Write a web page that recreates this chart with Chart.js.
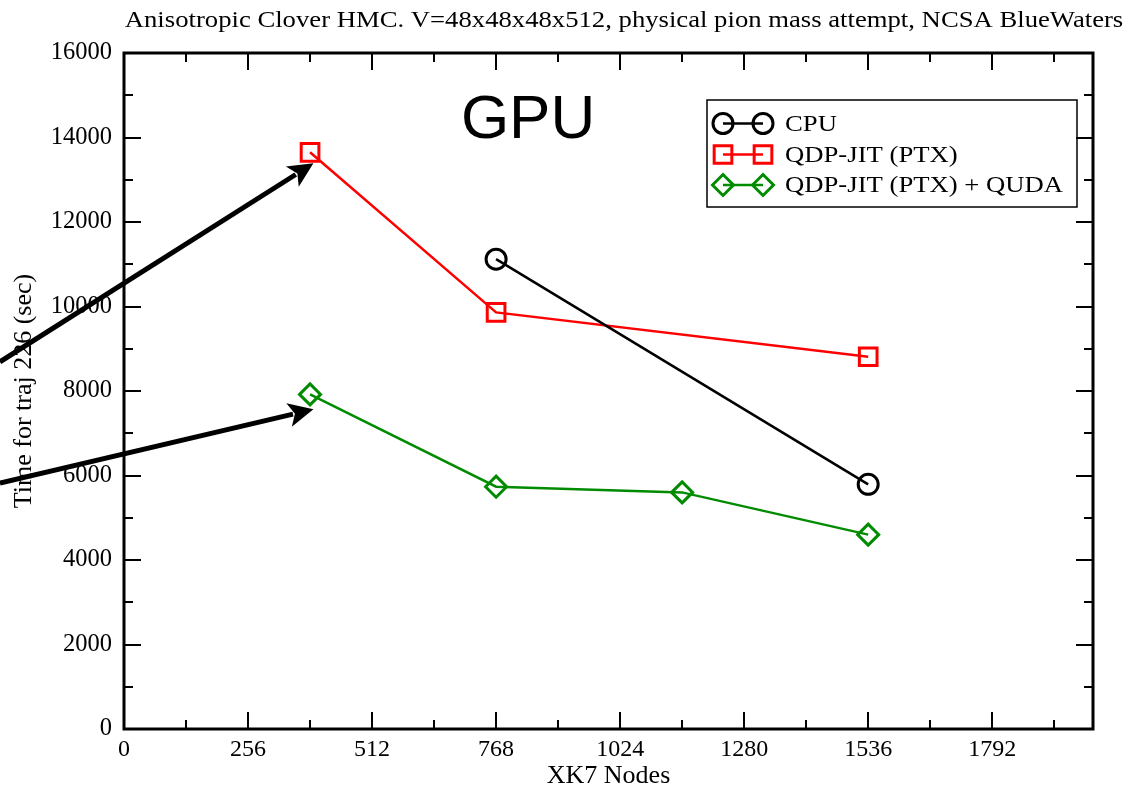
<!DOCTYPE html>
<html><head><meta charset="utf-8">
<script src="https://cdn.jsdelivr.net/npm/chart.js@4.4.1/dist/chart.umd.min.js"></script>
<style>html,body{margin:0;padding:0;background:#fff}#wrap{width:1130px;height:792px}</style>
</head><body><div id="wrap"><canvas id="c" width="1130" height="792"></canvas></div>
<script>
const titleText = "Anisotropic Clover HMC. V=48x48x48x512, physical pion mass attempt, NCSA BlueWaters";
const xTitle = "XK7 Nodes";
const yTitle = "Time for traj 226 (sec)";
const bigLabel = "GPU";
const xTicks = [0, 256, 512, 768, 1024, 1280, 1536, 1792];
const xMinorStep = 128;
const yTicks = [0, 2000, 4000, 6000, 8000, 10000, 12000, 14000, 16000];
const yMinorStep = 1000;
const seriesLabels = ["CPU", "QDP-JIT (PTX)", "QDP-JIT (PTX) + QUDA"];
const cpuNodes = [768, 1536];
const cpuTime = [11120, 5790];
const ptxNodes = [384, 768, 1536];
const ptxTime = [13650, 9860, 8810];
const qudaNodes = [384, 768, 1152, 1536];
const qudaTime = [7920, 5735, 5600, 4600];
// annotation arrows (data units): [x, y] start and tip
const arrowFrom = [[-256, 8690], [-256, 5820]];
const arrowTo = [[391, 13390], [391, 7567]];
const bigLabelAt = [834, 13990];

const SERIF = "'Liberation Serif', 'Times New Roman', serif";
const SANS = "'Liberation Sans', Arial, sans-serif";
const GREEN = "#008b00";
const TEXT_STRETCH = 1.16;

function pts(xs, ys) { return xs.map((x, i) => ({ x: x, y: ys[i] })); }

const styles = [
  { color: "#000000", pointStyle: "circle", radius: 10 },
  { color: "#ff0000", pointStyle: "rect", radius: 12.5 },
  { color: GREEN, pointStyle: "rectRot", radius: 10.5 }
];
const seriesData = [pts(cpuNodes, cpuTime), pts(ptxNodes, ptxTime), pts(qudaNodes, qudaTime)];

const datasets = seriesData.map((d, i) => ({
  label: seriesLabels[i],
  data: d,
  borderColor: styles[i].color,
  backgroundColor: "rgba(0,0,0,0)",
  borderWidth: 2.5,
  pointStyle: styles[i].pointStyle,
  pointRadius: styles[i].radius,
  pointHoverRadius: styles[i].radius,
  pointBorderWidth: 3,
  pointBorderColor: styles[i].color,
  pointBackgroundColor: "rgba(0,0,0,0)",
  tension: 0,
  fill: false,
  clip: false
}));

function stretchedText(ctx, text, x, y, align) {
  ctx.save();
  ctx.translate(x, y);
  ctx.scale(TEXT_STRETCH, 1);
  ctx.textAlign = align;
  ctx.fillText(text, 0, 0);
  ctx.restore();
}

const decor = {
  id: "decor",
  afterDraw(chart) {
    const ctx = chart.ctx;
    const a = chart.chartArea;
    const xs = chart.scales.x, ys = chart.scales.y;
    ctx.save();
    // title
    ctx.fillStyle = "#000";
    ctx.font = "23px " + SERIF;
    ctx.textBaseline = "alphabetic";
    stretchedText(ctx, titleText, 624, 27, "center");
    // frame ticks
    ctx.strokeStyle = "#000";
    ctx.lineWidth = 2;
    const MAJ = 17, MIN = 9;
    ctx.beginPath();
    for (let v = xs.min; v <= xs.max + 0.001; v += xMinorStep) {
      const px = Math.round(xs.getPixelForValue(v));
      const len = (v % 256 === 0) ? MAJ : MIN;
      ctx.moveTo(px, a.bottom); ctx.lineTo(px, a.bottom - len);
      ctx.moveTo(px, a.top); ctx.lineTo(px, a.top + len);
    }
    for (let v = ys.min; v <= ys.max + 0.001; v += yMinorStep) {
      const py = Math.round(ys.getPixelForValue(v));
      const len = (v % 2000 === 0) ? MAJ : MIN;
      ctx.moveTo(a.left, py); ctx.lineTo(a.left + len, py);
      ctx.moveTo(a.right, py); ctx.lineTo(a.right - len, py);
    }
    ctx.stroke();
    ctx.lineWidth = 3;
    ctx.strokeRect(a.left, a.top, a.right - a.left, a.bottom - a.top);
    // big label
    ctx.font = "62px " + SANS;
    ctx.textAlign = "center";
    ctx.textBaseline = "alphabetic";
    ctx.fillText(bigLabel, xs.getPixelForValue(bigLabelAt[0]), ys.getPixelForValue(bigLabelAt[1]));
    // arrows
    for (let i = 0; i < arrowFrom.length; i++) {
      const x0 = xs.getPixelForValue(arrowFrom[i][0]), y0 = ys.getPixelForValue(arrowFrom[i][1]);
      const x1 = xs.getPixelForValue(arrowTo[i][0]), y1 = ys.getPixelForValue(arrowTo[i][1]);
      const ang = Math.atan2(y1 - y0, x1 - x0);
      const hl = 25, hw = 12;
      const bx = x1 - hl * Math.cos(ang), by = y1 - hl * Math.sin(ang);
      ctx.lineWidth = 5;
      ctx.lineCap = "butt";
      ctx.beginPath();
      ctx.moveTo(x0, y0); ctx.lineTo(bx + 4 * Math.cos(ang), by + 4 * Math.sin(ang));
      ctx.stroke();
      ctx.beginPath();
      ctx.moveTo(x1, y1);
      ctx.lineTo(bx + hw * Math.sin(ang), by - hw * Math.cos(ang));
      ctx.lineTo(bx + 6 * Math.cos(ang), by + 6 * Math.sin(ang));
      ctx.lineTo(bx - hw * Math.sin(ang), by + hw * Math.cos(ang));
      ctx.closePath();
      ctx.fill();
    }
    // legend
    const lx = 707, ly = 100, lw = 370, lh = 107;
    ctx.lineWidth = 1.5;
    ctx.strokeRect(lx, ly, lw, lh);
    const rows = [123.5, 154.5, 185];
    ctx.font = "23px " + SERIF;
    ctx.textBaseline = "middle";
    chart.data.datasets.forEach((ds, i) => {
      const cy = rows[i];
      ctx.strokeStyle = ds.borderColor;
      ctx.lineWidth = 2.5;
      ctx.beginPath(); ctx.moveTo(723, cy); ctx.lineTo(763, cy); ctx.stroke();
      ctx.lineWidth = 3;
      const opts = { pointStyle: ds.pointStyle, rotation: 0, radius: ds.pointRadius, borderWidth: 3 };
      ctx.fillStyle = "rgba(0,0,0,0)";
      Chart.helpers.drawPoint(ctx, opts, 723, cy);
      Chart.helpers.drawPoint(ctx, opts, 763, cy);
      ctx.fillStyle = "#000";
      stretchedText(ctx, ds.label, 785, cy + 1, "left");
    });
    ctx.restore();
  }
};

new Chart(document.getElementById("c"), {
  type: "line",
  data: { datasets: datasets },
  plugins: [decor],
  options: {
    responsive: false,
    animation: false,
    devicePixelRatio: 1,
    layout: { padding: { top: 53, right: 37, bottom: 0, left: 0 } },
    plugins: { legend: { display: false }, title: { display: false }, tooltip: { enabled: false } },
    scales: {
      x: {
        type: "linear", min: 0, max: 2000,
        afterBuildTicks: s => { s.ticks = xTicks.map(v => ({ value: v })); },
        afterFit: s => { s.height = 63; },
        grid: { display: false, drawTicks: false },
        border: { display: false },
        ticks: { color: "#000", font: { family: SERIF, size: 24 }, padding: 6, maxRotation: 0, autoSkip: false, callback: v => String(v) },
        title: { display: true, text: xTitle, color: "#000", font: { family: SERIF, size: 26 }, padding: { top: 0, bottom: 0 } }
      },
      y: {
        type: "linear", min: 0, max: 16000,
        afterBuildTicks: s => { s.ticks = yTicks.map(v => ({ value: v })); },
        afterFit: s => { s.width = 124; },
        grid: { display: false, drawTicks: false },
        border: { display: false },
        ticks: { color: "#000", font: { family: SERIF, size: 24.5 }, padding: 12, autoSkip: false, callback: v => String(v) },
        title: { display: true, text: yTitle, color: "#000", font: { family: SERIF, size: 26 }, padding: { top: 9, bottom: 0 } }
      }
    }
  }
});
</script>
</body></html>
